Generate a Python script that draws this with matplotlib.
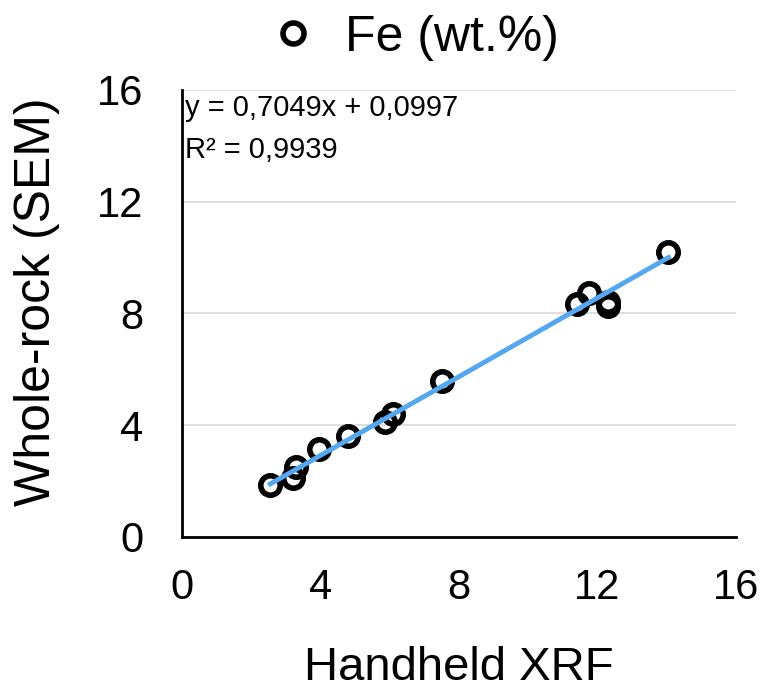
import numpy as np
import matplotlib.pyplot as plt

plt.rcParams['font.family'] = ['Liberation Sans', 'DejaVu Sans']

# Fe (wt.%) : handheld XRF vs whole-rock SEM
xrf = [2.55, 3.2, 3.3, 3.95, 4.8, 5.85, 6.1, 7.5, 11.4, 11.75, 12.3, 12.3, 14.05]
sem = [1.85, 2.1, 2.5, 3.15, 3.6, 4.1, 4.4, 5.6, 8.35, 8.75, 8.4, 8.25, 10.2]
slope, intercept = 0.7049, 0.0997
xticks = [0, 4, 8, 12, 16]
yticks = [0, 4, 8, 12, 16]

fig = plt.figure(figsize=(7.63, 6.97), dpi=100)
ax = fig.add_axes([0.2385, 0.2296, 0.7261, 0.6413])

ax.yaxis.grid(True, color='#d9d9d9', linewidth=1.2)
ax.set_axisbelow(True)

xfit = np.array([min(xrf), max(xrf)])
ax.plot(xfit, slope * xfit + intercept, color='#55a7ef', linewidth=3.5, zorder=3)
ax.plot(xrf, sem, linestyle='none', marker='o', markersize=14,
        markerfacecolor='none', markeredgecolor='black', markeredgewidth=4,
        label='Fe (wt.%)', zorder=2)

ax.set_xlim(0, 16)
ax.set_ylim(0, 16)
ax.set_xticks(xticks)
ax.set_yticks(yticks)
ax.tick_params(length=0, labelsize=30)
ax.tick_params(axis='x', pad=22)
ax.tick_params(axis='y', pad=28)

for s in ['top', 'right']:
    ax.spines[s].set_visible(False)
for s in ['left', 'bottom']:
    ax.spines[s].set_linewidth(2)
    ax.spines[s].set_color('black')

ax.set_xlabel('Handheld XRF', fontsize=34, labelpad=28)
ax.set_ylabel('Whole-rock (SEM)', fontsize=36)
ax.yaxis.set_label_coords(-0.22, 0.526)

ax.text(0.005, 0.99, 'y = 0,7049x + 0,0997\nR² = 0,9939', transform=ax.transAxes,
        fontsize=21, va='top', ha='left', linespacing=1.6)

fig.legend(loc='center left', bbox_to_anchor=(0.351, 0.9455), frameon=False,
           fontsize=36, handlelength=1.0, handletextpad=0.54, borderpad=0,
           borderaxespad=0, markerscale=1.08)

plt.savefig('out.png', dpi=100)
